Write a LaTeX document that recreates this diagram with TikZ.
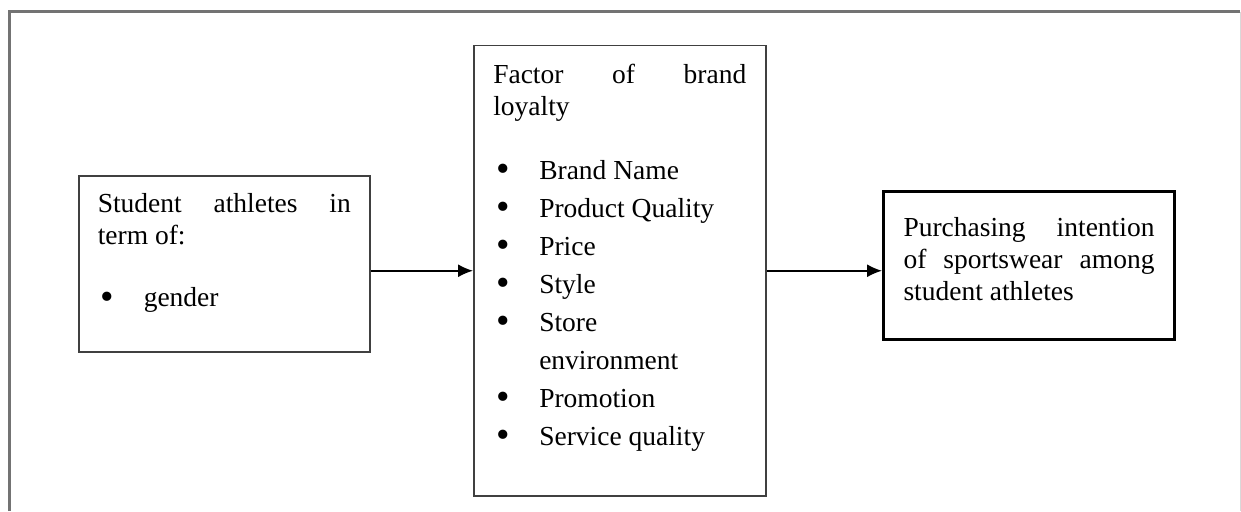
\documentclass[tikz,border=0pt]{standalone}
\usepackage{fontspec}
\usepackage{graphicx}
\setmainfont{Liberation Serif}
\usetikzlibrary{arrows.meta}

\newcommand\boxtext[3]{\parbox[t][#1][t]{#2}{\fontsize{27.5}{32}\selectfont#3}}
\newcommand\spreadline[1]{\makebox[\linewidth][s]{#1}\par}
\newcommand\listgap[1]{\fontsize{27.5}{38}\selectfont\vspace*{#1}}
\newcommand\bitem[1]{\noindent\hspace*{3pt}\makebox[43pt][l]{\raisebox{-2.5pt}{\scalebox{1.4}{\textbullet}}}#1\par}
\newcommand\bmore[1]{\noindent\hspace*{46pt}#1\par}

\begin{document}
\begin{tikzpicture}[x=1pt,y=-1pt,
  box/.style={draw=black!75,line width=1.5pt,anchor=north west,inner sep=0pt},
  bold box/.style={box,draw=black,line width=3pt},
  flow/.style={-{Latex[length=15pt,width=13pt]},line width=1.6pt}]
\useasboundingbox (0,0) rectangle (1241,511);
\draw[black!55,line width=3pt] (9,511) -- (9,12) -- (1240,12);
\draw[black!15,line width=1pt] (1240,12) -- (1240,511);

\node[box,minimum width=291pt,minimum height=176pt] (student) at (78,175)
  {\boxtext{140pt}{253pt}{\spreadline{Student athletes in}term of:\par
   \listgap{24pt}\bitem{gender}}};
\node[box,minimum width=292pt,minimum height=450pt] (factor) at (473,45)
  {\boxtext{414pt}{253pt}{\spreadline{Factor of brand}loyalty\par
   \listgap{26pt}\bitem{Brand Name}\bitem{Product Quality}\bitem{Price}\bitem{Style}
   \bitem{Store}\bmore{environment}\bitem{Promotion}\bitem{Service quality}}};
\node[bold box,minimum width=291pt,minimum height=148pt] (intent) at (882,190)
  {\boxtext{96pt}{251pt}{\spreadline{Purchasing intention}\spreadline{of sportswear among}student athletes\par}};

\draw[flow] (student.east |- factor.west) -- (factor.west);
\draw[flow] (factor.east) -- (factor.east -| intent.west);
\end{tikzpicture}
\end{document}
